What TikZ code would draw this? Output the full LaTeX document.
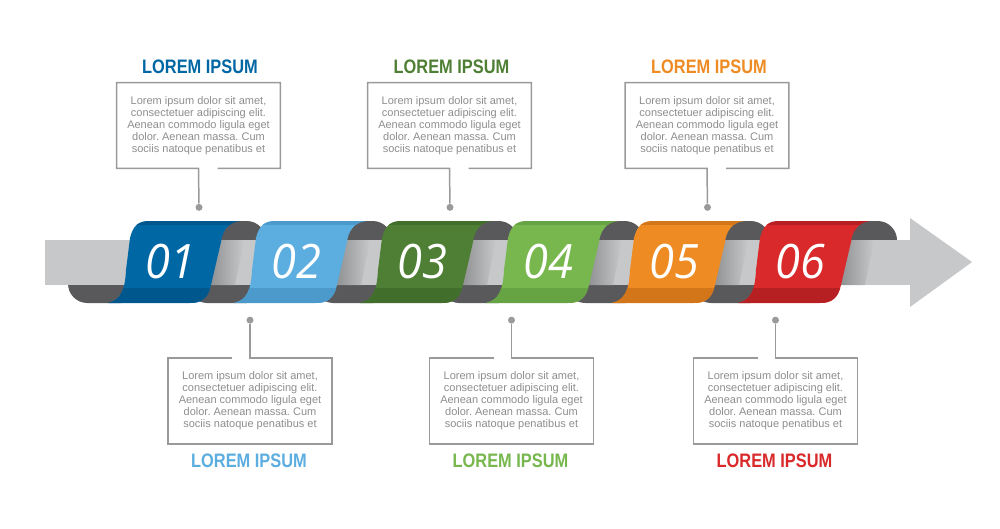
\documentclass[tikz,border=0pt]{standalone}
\usepackage{fontspec}
\setmainfont{Liberation Sans}
\newfontfamily\titlefont{Liberation Sans}[FakeStretch=0.84]
\newfontfamily\numfont{Open Sans}[FakeStretch=0.95]
\usetikzlibrary{calc}
\frenchspacing
\definecolor{tabA}{HTML}{0067A5}
\definecolor{tabAdk}{HTML}{00578E}
\definecolor{tabB}{HTML}{5DAEE0}
\definecolor{tabBdk}{HTML}{4B9ACB}
\definecolor{tabC}{HTML}{4E7F34}
\definecolor{tabCdk}{HTML}{426E2B}
\definecolor{tabD}{HTML}{77B74E}
\definecolor{tabDdk}{HTML}{66A342}
\definecolor{tabE}{HTML}{EE8B23}
\definecolor{tabEdk}{HTML}{D27619}
\definecolor{tabF}{HTML}{D9292A}
\definecolor{tabFdk}{HTML}{B72022}
\definecolor{shaftgray}{HTML}{C7C8CA}
\definecolor{shadegray}{HTML}{8E8F91}
\definecolor{backgray}{HTML}{59595B}
\definecolor{linegray}{HTML}{9A9A9A}
\definecolor{loremgray}{HTML}{8E8E8E}
\tikzset{
    backpart/.style={fill=backgray,rounded corners=11pt},
    shaftpart/.style={fill=shaftgray},
    numlbl/.style={text=white,font=\numfont\itshape\fontsize{27}{28}\selectfont,inner sep=0pt},
    infobox/.style={minimum width=3.26cm,minimum height=1.7cm,inner sep=0pt,align=center,
        text=loremgray,font=\fontsize{6.26}{6.83}\selectfont},
    boxline/.style={draw=linegray,line width=0.85pt},
    heading/.style={font=\titlefont\bfseries\fontsize{11.1}{12}\selectfont,anchor=base,inner sep=0pt},
    stud/.style={circle,fill=linegray,minimum size=0.14cm,inner sep=0pt},
}
\newcommand\tabshape[1]{(#1-20,221) -- (#1+70,221)
    .. controls (#1+58,222) and (#1+52,232) .. (#1+51,242) -- (#1+41,285)
    .. controls (#1+38,298) and (#1+32,303) .. (#1+20,303) -- (#1-62,303)
    .. controls (#1-49,300) and (#1-45,290) .. (#1-44,270) -- (#1-40,238)
    .. controls (#1-37,226) and (#1-32,221) .. (#1-20,221) -- cycle}
\newcommand\loremtext{Lorem ipsum dolor sit amet,\\ consectetuer adipiscing elit.\\
    Aenean commodo ligula eget\\ dolor. Aenean massa. Cum\\ sociis natoque penatibus et}

\begin{document}
\begin{tikzpicture}[x=0.02cm,y=-0.02cm]
\fill[white] (0,0) rectangle (1000,528);
\useasboundingbox (0,0) rectangle (1000,528);
% back of the ribbon
\fill[backpart] (68,250) rectangle (140,303);
\foreach \X in {170,296,422,548,674}
    \fill[backpart] (\X+18,221) rectangle (\X+96,303);
\fill[backpart] (820,221) rectangle (897,275);
% shaft and head
\fill[shaftpart] (45,240) rectangle (912,285);
\fill[shaftpart] (910,218) -- (972,262) -- (910,307) -- cycle;
% front tabs
\foreach \i/\X/\c/\d in {01/170/tabA/tabAdk,02/296/tabB/tabBdk,03/422/tabC/tabCdk,
        04/548/tabD/tabDdk,05/674/tabE/tabEdk,06/800/tabF/tabFdk}{
    \shade[left color=shadegray,right color=shaftgray]
        (\X+48,240) -- (\X+74,240) -- (\X+65,285) -- (\X+39,285) -- cycle;
    \fill[\c] \tabshape{\X};
    \begin{scope}
        \clip \tabshape{\X};
        \fill[\d] (\X-80,221) rectangle (\X+80,225);
        \fill[\d] (\X-80,288) rectangle (\X+80,303);
    \end{scope}
    \node[numlbl] (n\i) at (\X,262) {\i};
}
% text boxes above
\node[infobox] (box1) at (198.5,125.5) {\loremtext};
\node[infobox] (box3) at (449.5,125.5) {\loremtext};
\node[infobox] (box5) at (707,125.5) {\loremtext};
% text boxes below
\node[infobox] (box2) at (250,401) {\loremtext};
\node[infobox] (box4) at (511.5,401) {\loremtext};
\node[infobox] (box6) at (775.5,401) {\loremtext};
\foreach \b in {1,3,5}{
    \node[stud] (d\b) at ($(box\b.south)+(0.5,39)$) {};
    \draw[boxline] ($(box\b.south)+(19,0)$) -- (box\b.south east) -- (box\b.north east)
        -- (box\b.north west) -- (box\b.south west) -- (box\b.south) -- (d\b);
}
\foreach \b in {2,4,6}{
    \node[stud] (d\b) at ($(box\b.north)+(0,-38)$) {};
    \draw[boxline] ($(box\b.north)+(-18,0)$) -- (box\b.north west) -- (box\b.south west)
        -- (box\b.south east) -- (box\b.north east) -- (box\b.north) -- (d\b);
}
% headings
\node[heading,text=tabA] (h1) at ($(box1.north)+(1.5,-9)$) {LOREM IPSUM};
\node[heading,text=tabC] (h3) at ($(box3.north)+(2,-9)$) {LOREM IPSUM};
\node[heading,text=tabE] (h5) at ($(box5.north)+(2,-9)$) {LOREM IPSUM};
\node[heading,text=tabB] (h2) at ($(box2.south)+(-1,24)$) {LOREM IPSUM};
\node[heading,text=tabD] (h4) at ($(box4.south)+(-1,24)$) {LOREM IPSUM};
\node[heading,text=tabF] (h6) at ($(box6.south)+(-1,24)$) {LOREM IPSUM};
\end{tikzpicture}
\end{document}
